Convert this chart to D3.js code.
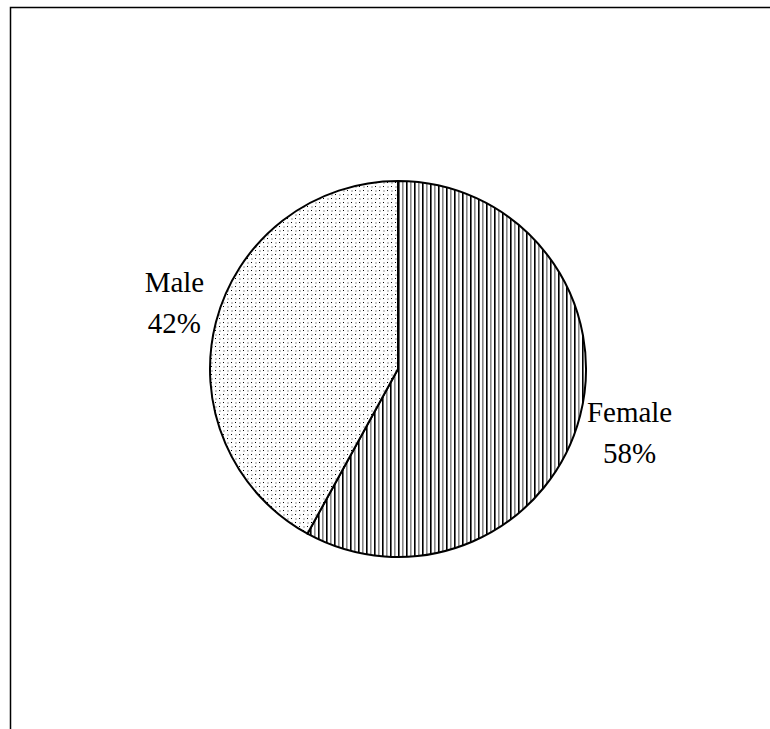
<!DOCTYPE html>
<html>
<head>
<meta charset="utf-8">
<script src="https://cdn.jsdelivr.net/npm/d3@7"></script>
<style>
  body { margin: 0; background: #fff; }
  svg { display: block; }
</style>
</head>
<body>
<svg id="svg" width="770" height="729"></svg>
<script>
var categories = ["Female", "Male"]
var shares = [58, 42]
var labels = ["58%", "42%"]

var width = 770, height = 729
var cx = 398, cy = 369, R = 188
// small nudges so labels sit where the original put them
var nudge = [[2, -3], [6, -15]]

const svg = d3.select("#svg")
var defs = svg.append("defs")

// vertical stripes, black and grey
var stripes = defs.append("pattern")
  .attr("id", "stripes").attr("patternUnits", "userSpaceOnUse")
  .attr("width", 8).attr("height", 8)
stripes.append("rect").attr("width", 8).attr("height", 8).attr("fill", "#fff")
stripes.append("rect").attr("x", 0).attr("width", 1.6).attr("height", 8).attr("fill", "#000")
stripes.append("rect").attr("x", 4).attr("width", 1.6).attr("height", 8).attr("fill", "#888")

// dotted fill
var dots = defs.append("pattern")
  .attr("id", "dots").attr("patternUnits", "userSpaceOnUse")
  .attr("width", 8).attr("height", 8)
dots.append("rect").attr("width", 8).attr("height", 8).attr("fill", "#fff")
dots.append("rect").attr("x", 1).attr("y", 1).attr("width", 1).attr("height", 1).attr("fill", "#000")
dots.append("rect").attr("x", 5).attr("y", 5).attr("width", 1).attr("height", 1).attr("fill", "#000")
dots.append("rect").attr("x", 5).attr("y", 1).attr("width", 2).attr("height", 2).attr("fill", "#ccc")
dots.append("rect").attr("x", 1).attr("y", 5).attr("width", 2).attr("height", 2).attr("fill", "#ccc")

var fills = ["url(#stripes)", "url(#dots)"]

// frame
svg.append("rect")
  .attr("x", 10.5).attr("y", 7.5)
  .attr("width", 800).attr("height", 800)
  .attr("fill", "none").attr("stroke", "#000").attr("stroke-width", 1.5)

var pie = d3.pie().sort(null).value(d => d.v)
var data = categories.map((c, i) => ({ name: c, v: shares[i], label: labels[i] }))
var arcs = pie(data)

var arc = d3.arc().innerRadius(0).outerRadius(R)
var labelArc = d3.arc().innerRadius(237).outerRadius(237)

var g = svg.append("g").attr("transform", `translate(${cx},${cy})`)

g.selectAll(".slice")
  .data(arcs)
  .enter().append("path")
  .attr("class", "slice")
  .attr("d", arc)
  .attr("fill", (d, i) => fills[i])
  .attr("stroke", "#000")
  .attr("stroke-width", 2)
  .attr("stroke-linejoin", "round")

var txt = g.selectAll(".lbl")
  .data(arcs)
  .enter().append("text")
  .attr("class", "lbl")
  .attr("transform", (d, i) => {
    var c = labelArc.centroid(d)
    return `translate(${c[0] + nudge[i][0]},${c[1] + nudge[i][1]})`
  })
  .attr("text-anchor", "middle")
  .attr("font-family", "'Liberation Serif', 'Times New Roman', serif")
  .attr("font-size", 29)
  .attr("fill", "#000")

txt.append("tspan").attr("x", 0).attr("dy", "-0.1em").text(d => d.data.name)
txt.append("tspan").attr("x", 0).attr("dy", "1.42em").text(d => d.data.label)
</script>
</body>
</html>
